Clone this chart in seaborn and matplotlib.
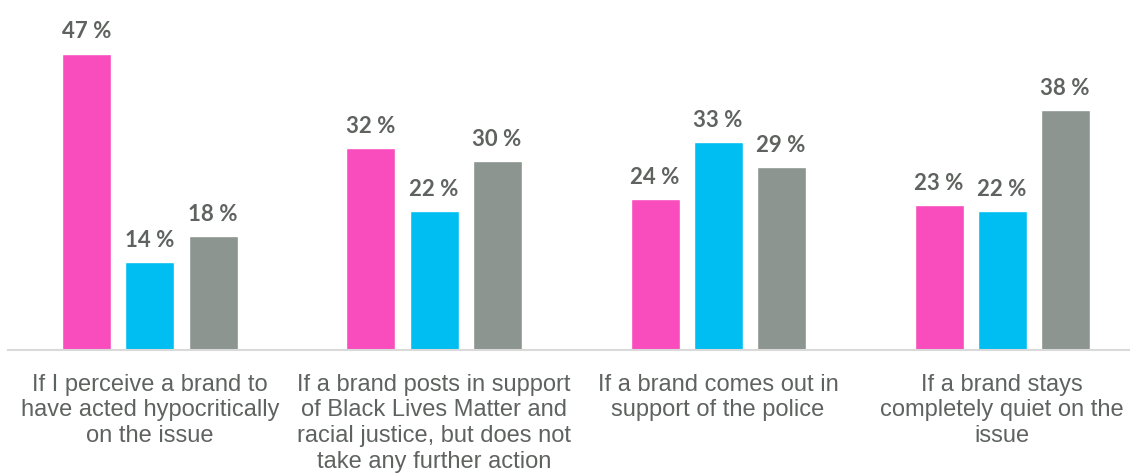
import matplotlib
matplotlib.use("Agg")
import matplotlib.pyplot as plt
import seaborn as sns
import pandas as pd

categories = [
    "If I perceive a brand to\nhave acted hypocritically\non the issue",
    "If a brand posts in support\nof Black Lives Matter and\nracial justice, but does not\ntake any further action",
    "If a brand comes out in\nsupport of the police",
    "If a brand stays\ncompletely quiet on the\nissue",
]
series = ["Series 1", "Series 2", "Series 3"]
values_s1 = [47, 32, 24, 23]
values_s2 = [14, 22, 33, 22]
values_s3 = [18, 30, 29, 38]
colors = ["#F94DBE", "#00BEF2", "#8C9590"]
text_color = "#5F6360"

rows = []
for s, vals in zip(series, [values_s1, values_s2, values_s3]):
    for c, v in zip(categories, vals):
        rows.append({"category": c, "series": s, "value": v})
df = pd.DataFrame(rows)

sns.set_theme(style="white")
plt.rcParams["font.family"] = ["Liberation Sans", "DejaVu Sans"]

fig = plt.figure(figsize=(11.3, 4.73), dpi=100)
ax = fig.add_axes([0.007, 0.26, 0.993, 0.74])

sns.barplot(data=df, x="category", y="value", hue="series", palette=colors,
            width=0.666, gap=0.223, ax=ax, legend=False, saturation=1,
            order=categories, hue_order=series)

for cont in ax.containers:
    ax.bar_label(cont, labels=[f"{int(v)} %" for v in cont.datavalues],
                 padding=8, fontsize=16, fontweight="bold", color=text_color,
                 family=["Lato", "DejaVu Sans"])

ax.set_ylim(0, 55.5)
ax.set_xlim(-0.5, 3.45)
ax.set_xlabel("")
ax.set_ylabel("")
ax.set_yticks([])
for side in ["top", "right", "left"]:
    ax.spines[side].set_visible(False)
ax.spines["bottom"].set_color("#D9D9D9")
ax.spines["bottom"].set_linewidth(1.5)
ax.tick_params(axis="x", length=0, pad=17)
for lbl in ax.get_xticklabels():
    lbl.set_fontsize(17)
    lbl.set_color(text_color)
    lbl.set_linespacing(1.22)
    lbl.set_verticalalignment("top")

fig.savefig("out.png", dpi=100, facecolor="white")
